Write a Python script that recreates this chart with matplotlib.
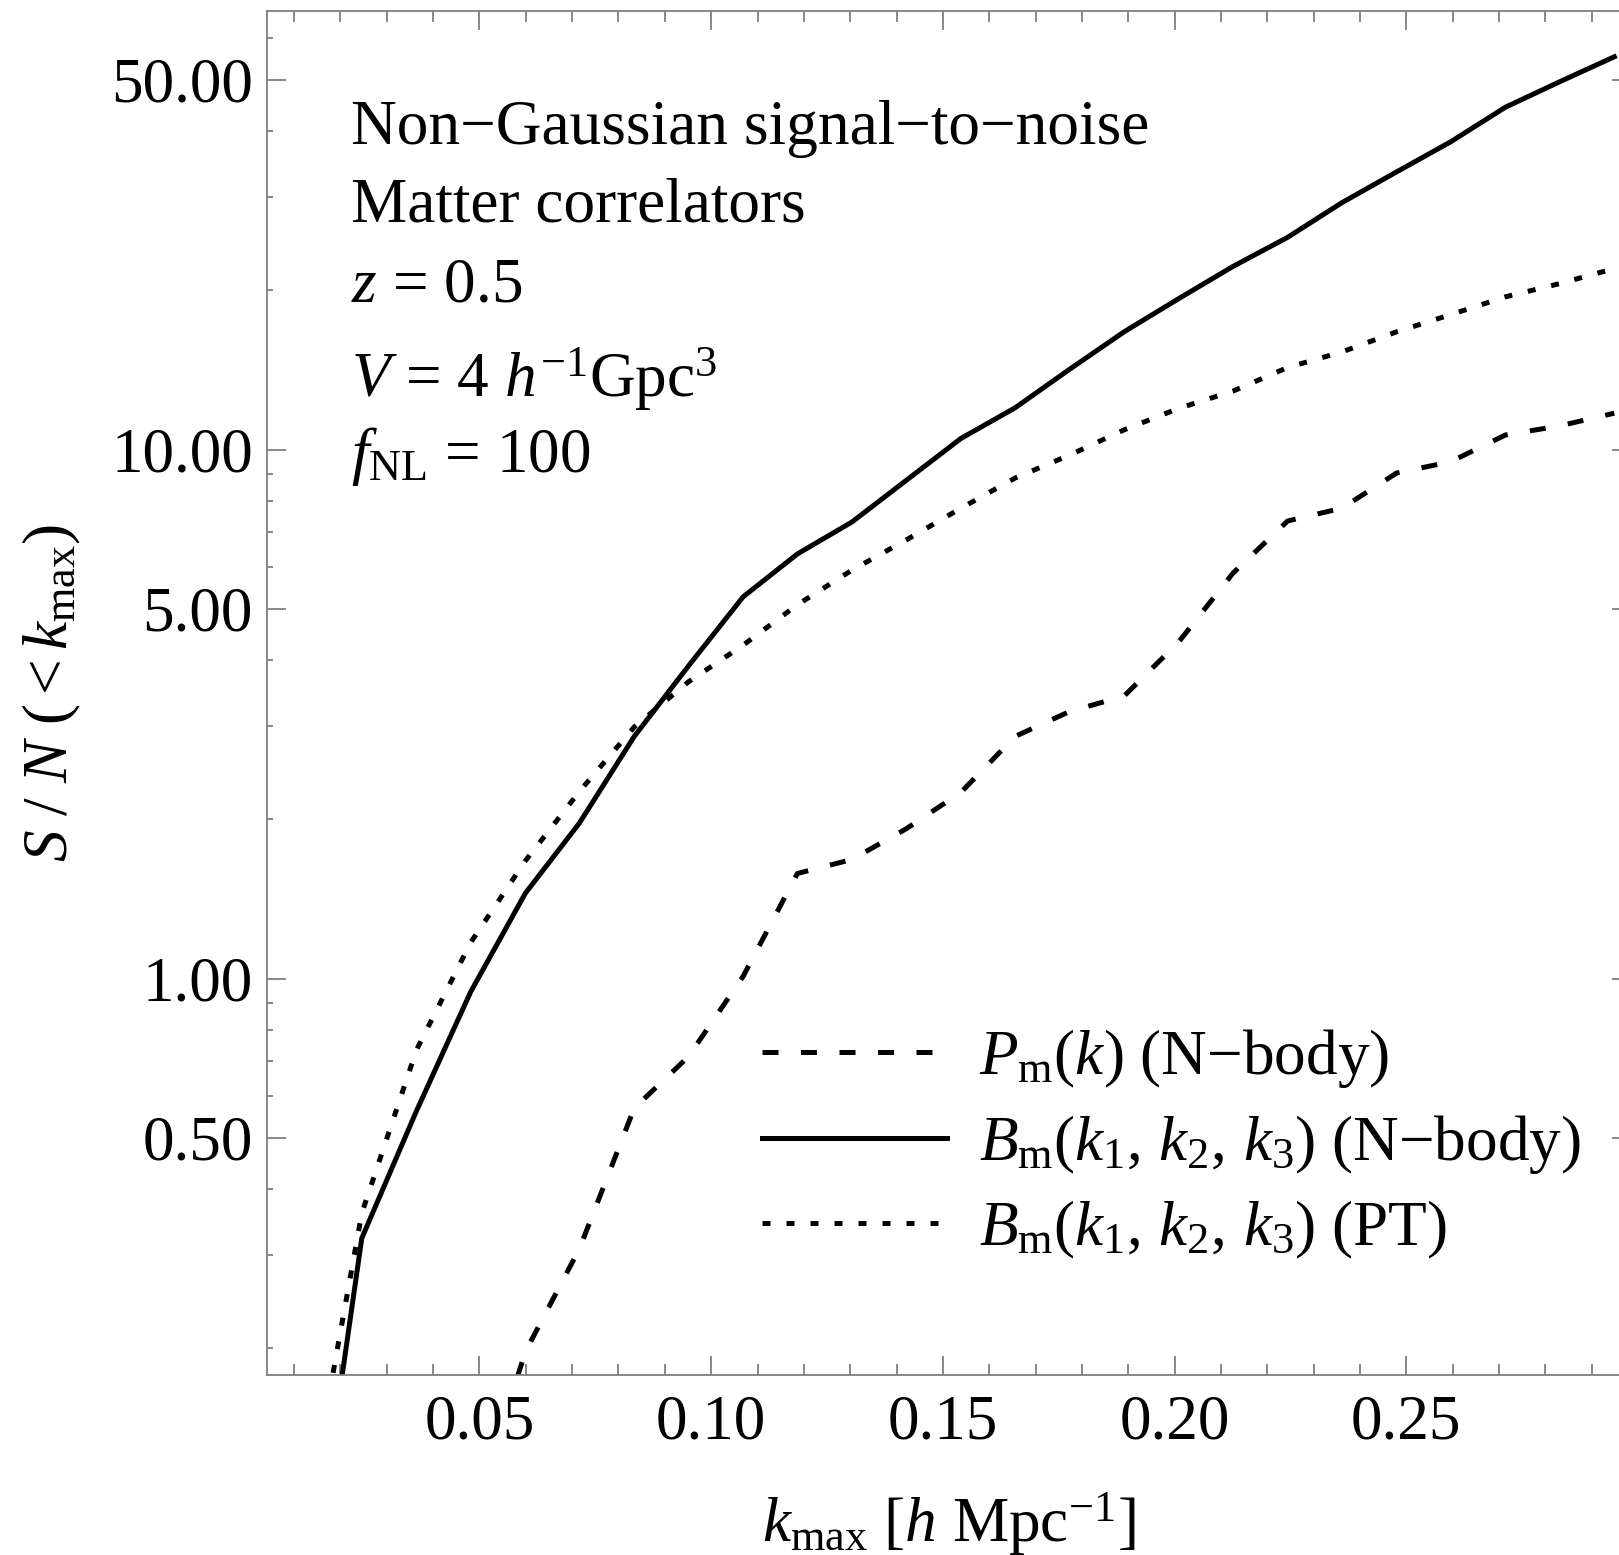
import matplotlib
matplotlib.use("Agg")
import matplotlib.pyplot as plt
from matplotlib.ticker import FixedLocator, FormatStrFormatter, NullFormatter, MultipleLocator

plt.rcParams["font.family"] = ["Liberation Serif", "DejaVu Serif"]
plt.rcParams["mathtext.fontset"] = "custom"
plt.rcParams["mathtext.rm"] = "Liberation Serif"
plt.rcParams["mathtext.it"] = "Liberation Serif:italic"
plt.rcParams["mathtext.bf"] = "Liberation Serif:bold"

# Cumulative signal-to-noise for f_NL = 100 versus maximum wavenumber
k_max = [0.0129, 0.0246, 0.0364, 0.0481, 0.0599, 0.0716, 0.0834, 0.0951, 0.1069,
         0.1186, 0.1304, 0.1421, 0.1539, 0.1656, 0.1774, 0.1891, 0.2009, 0.2126,
         0.2244, 0.2361, 0.2479, 0.2596, 0.2714, 0.2831, 0.2949]

sn_bispec_nbody = [0.062, 0.323, 0.562, 0.944, 1.45, 1.97, 2.87, 3.9, 5.27,
                   6.35, 7.3, 8.75, 10.5, 12.0, 14.2, 16.7, 19.3, 22.2,
                   25.2, 29.3, 33.5, 38.2, 44.4, 49.6, 55.3]

sn_bispec_pt = [0.097, 0.36, 0.733, 1.17, 1.67, 2.26, 2.99, 3.64, 4.27,
                5.09, 5.92, 6.75, 7.75, 8.84, 9.77, 10.9, 11.97, 12.9,
                14.3, 15.3, 16.7, 18.0, 19.45, 20.6, 22.0]

k_max_power = k_max[3:]
sn_power_nbody = [0.093, 0.197, 0.309, 0.569, 0.712, 1.01,
                  1.58, 1.68, 1.92, 2.25, 2.87, 3.20, 3.42, 4.33,
                  5.84, 7.33, 7.75, 9.03, 9.49, 10.66, 11.09, 11.72]

x_major = [0.05, 0.10, 0.15, 0.20, 0.25]
y_major = [0.5, 1, 5, 10, 50]
y_minor = [0.2, 0.3, 0.4, 0.6, 0.7, 0.8, 0.9, 2, 3, 4, 6, 7, 8, 9, 20, 30, 40, 60]

info_lines = ["Non\u2212Gaussian signal\u2212to\u2212noise",
              "Matter correlators",
              r"$z$ = 0.5",
              r"$V$ = 4 $h^{-1}$Gpc$^{3}$",
              r"$f_{\rm NL}$ = 100"]

labels = [r"$P_{\rm m}(k)$ (N" + "\u2212" + "body)",
          r"$B_{\rm m}(k_{1},\, k_{\mathit{2}},\, k_{\mathit{3}})$ (N" + "\u2212" + "body)",
          r"$B_{\rm m}(k_{1},\, k_{\mathit{2}},\, k_{\mathit{3}})$ (PT)"]

FS = 45.5
LW = 3.6
frame_col = "#7f7f7f"

fig = plt.figure(figsize=(16.19, 15.55), dpi=100)
ax = fig.add_axes([0.16473, 0.11595, 0.84268, 0.87698])

ax.plot(k_max_power, sn_power_nbody, color="black", lw=LW,
        linestyle=(0, (3.2, 4.5)), label=labels[0])
ax.plot(k_max, sn_bispec_nbody, color="black", lw=LW, linestyle="-",
        label=labels[1])
ax.plot(k_max, sn_bispec_pt, color="black", lw=LW,
        linestyle=(0, (1.6, 3.2)), label=labels[2])

ax.set_yscale("log")
ax.set_xlim(0.00408, 0.2985)
ax.set_ylim(0.1783, 67.5)

ax.xaxis.set_major_locator(FixedLocator(x_major))
ax.xaxis.set_major_formatter(FormatStrFormatter("%.2f"))
ax.xaxis.set_minor_locator(MultipleLocator(0.01))
ax.yaxis.set_major_locator(FixedLocator(y_major))
ax.yaxis.set_major_formatter(FormatStrFormatter("%.2f"))
ax.yaxis.set_minor_locator(FixedLocator(y_minor))
ax.yaxis.set_minor_formatter(NullFormatter())

ax.tick_params(which="both", direction="in", top=True, right=True,
               color=frame_col, width=1.3, labelsize=FS)
ax.tick_params(axis="x", which="major", length=13.7, pad=14.5)
ax.tick_params(axis="x", which="minor", length=7.9)
ax.tick_params(axis="y", which="major", length=13.7, pad=10)
ax.tick_params(axis="y", which="minor", length=4.3)
for sp in ax.spines.values():
    sp.set_color(frame_col)
    sp.set_linewidth(1.3)

ax.set_xlabel(r"$k_{\rm max}$ [$h$ Mpc$^{-1}$]", fontsize=FS, labelpad=27)
ax.set_ylabel(r"$S\ /\ N\ (<k_{\rm max})$", fontsize=FS, labelpad=20)

baselines = [0.9025, 0.8455, 0.7868, 0.7172, 0.6622]
for txt, yb in zip(info_lines, baselines):
    ax.text(0.0618, yb, txt, transform=ax.transAxes, fontsize=FS,
            ha="left", va="baseline")

ax.legend(loc="upper left", bbox_to_anchor=(0.363, 0.255), frameon=False,
          fontsize=FS, handlelength=2.93, handletextpad=0.5,
          labelspacing=0.36, borderpad=0, borderaxespad=0)

fig.savefig("out.png", dpi=100)
